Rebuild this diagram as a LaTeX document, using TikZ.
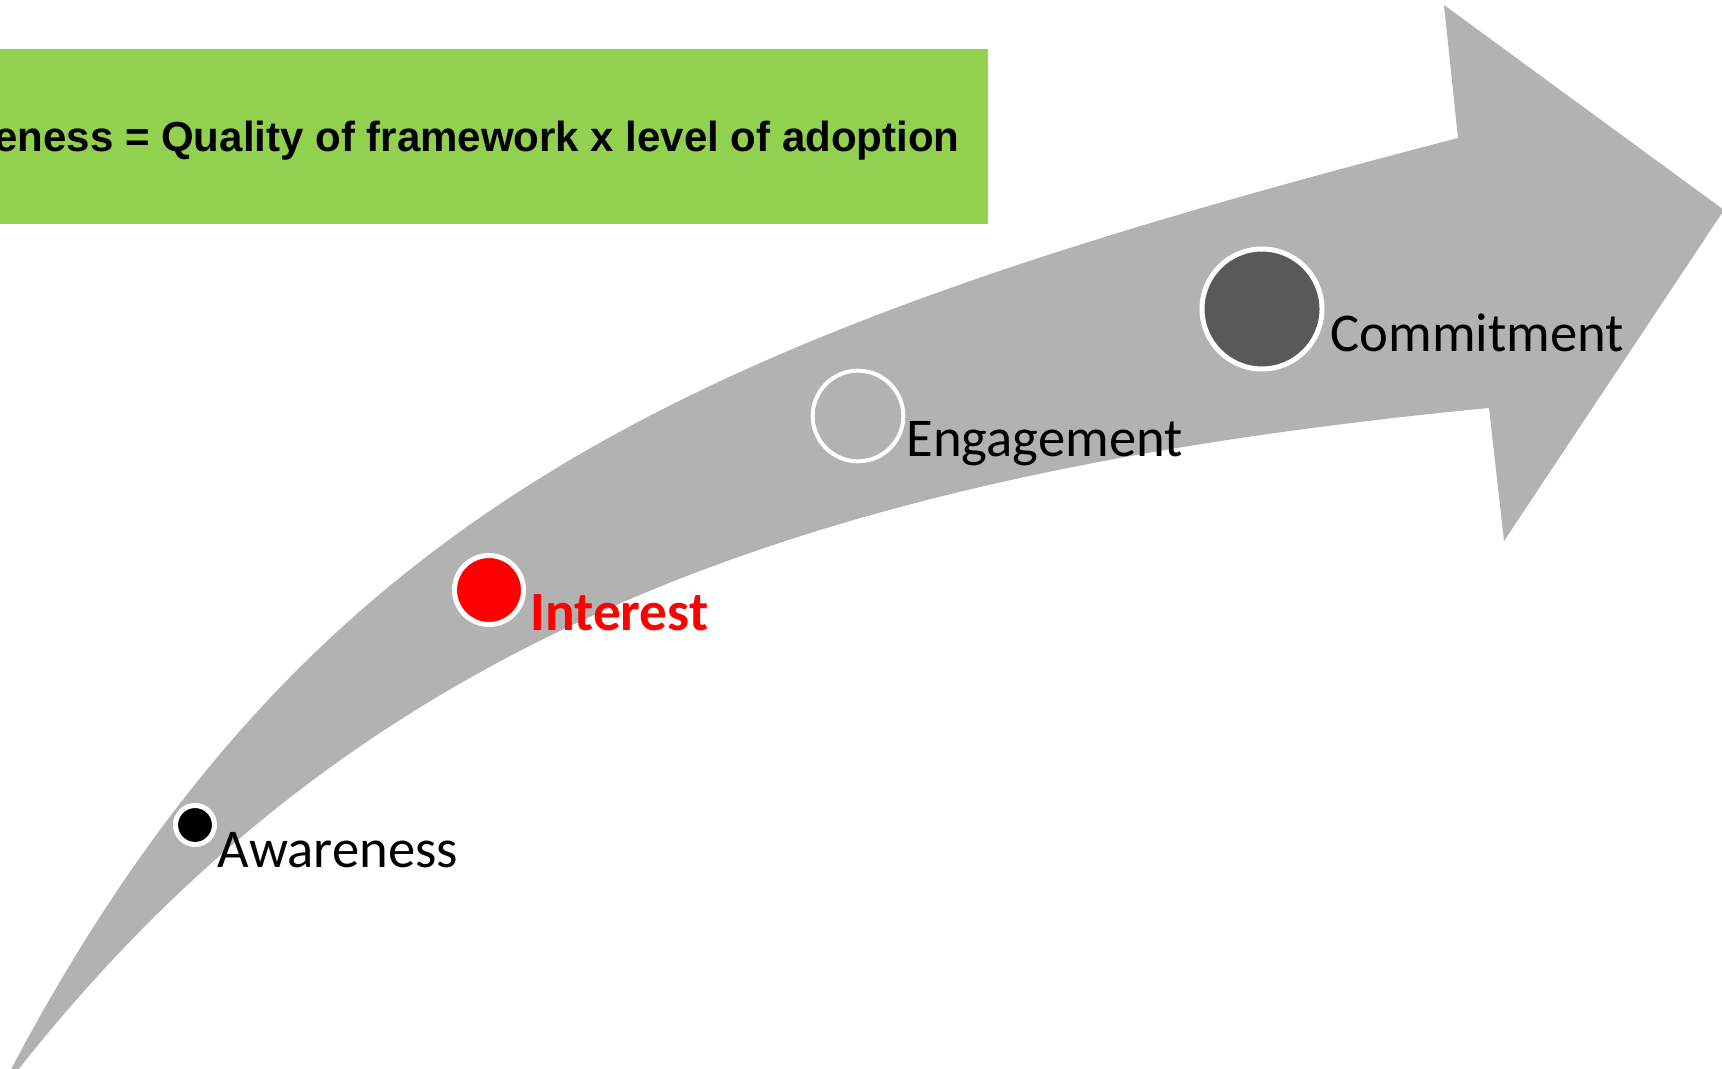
\documentclass[tikz,border=0pt]{standalone}
\usepackage{fontspec}
\setmainfont{Carlito}
\newfontfamily\boxfont{Liberation Sans}
\definecolor{arrowgrey}{RGB}{178,178,178}
\definecolor{boxgreen}{RGB}{146,208,80}
\definecolor{dotgrey}{RGB}{89,89,89}
\tikzset{every picture/.style={line width=0.75pt}}
\tikzset{
  stagedot/.style={circle, draw=white, line width=3.75pt, inner sep=0pt},
  stagelabel/.style={anchor=base west, inner sep=0pt, font=\fontsize{41}{50}\selectfont}
}

\begin{document}
\begin{tikzpicture}[x=0.75pt,y=0.75pt,yscale=-1,xscale=1]
\useasboundingbox (0,0) rectangle (1722,1069);

%Shape: Rectangle [green formula box]
\fill [boxgreen] (0,49) -- (988,49) -- (988,224) -- (0,224) -- cycle ;
%Shape: Curved arrow
\fill [arrowgrey] (8,1075) .. controls (310,500) and (700,335) .. (1458,138) -- (1444,5) -- (1724,210) -- (1504,541) -- (1489,408) .. controls (792,475) and (353,643) .. (14,1075) -- cycle ;

%Stage dots
\node [stagedot, fill=black, minimum size=29.25pt] (awaredot) at (195,825) {};
\node [stagedot, fill=red, minimum size=51.75pt] (interestdot) at (489,590) {};
\node [stagedot, line width=3pt, minimum size=68pt] (engagedot) at (858,416) {};
\node [stagedot, fill=dotgrey, minimum size=90pt] (commitdot) at (1262,309) {};

% Text Node
\node [anchor=base east, inner sep=0pt, font=\boxfont\bfseries\fontsize{31.5}{38}\selectfont] (formula) at (960,152) {eness = Quality of framework x level of adoption};
% Text Node
\node [stagelabel] (awarelabel) at (217,867) {Awareness};
% Text Node
\node [stagelabel, text=red, font=\bfseries\fontsize{41.5}{50}\selectfont] (interestlabel) at (530,630) {Interest};
% Text Node
\node [stagelabel] (engagelabel) at (906,456) {Engagement};
% Text Node
\node [stagelabel] (commitlabel) at (1330,352) {Commitment};

\end{tikzpicture}
\end{document}
